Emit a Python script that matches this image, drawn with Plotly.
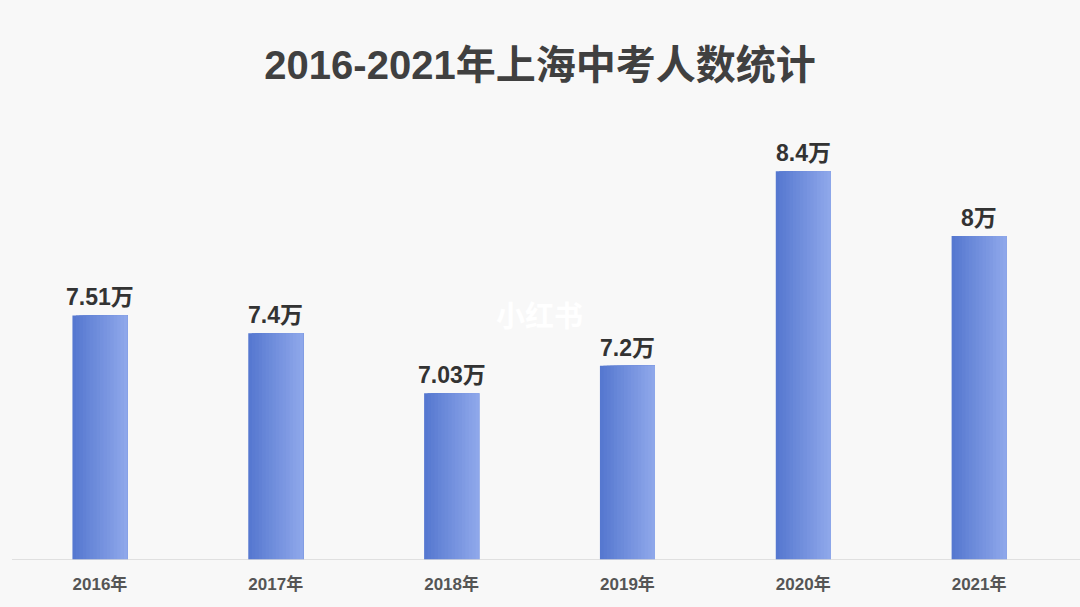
import plotly.graph_objects as go

years = ["2016年", "2017年", "2018年", "2019年", "2020年", "2021年"]
values = [7.51, 7.4, 7.03, 7.2, 8.4, 8]
title_text = "2016-2021年上海中考人数统计"

FONT = "Liberation Sans, Arial, Noto Sans CJK SC, sans-serif"
W = 0.3125
N = 16
c0 = (86, 120, 208)
c1 = (142, 167, 234)

fig = go.Figure()
for i in range(N):
    t = i / (N - 1)
    col = tuple(int(round(c0[k] + (c1[k] - c0[k]) * t)) for k in range(3))
    fig.add_trace(go.Bar(
        x=years, y=values, width=W - i * W / N, offset=-W / 2 + i * W / N,
        marker=dict(color="rgb(%d,%d,%d)" % col, line=dict(width=0)),
        hoverinfo="skip", showlegend=False,
    ))

annotations = [
    dict(x=yr, y=v, xref="x", yref="y", text="<b>%s万</b>" % format(v, "g"),
         showarrow=False, yanchor="bottom", yshift=3,
         font=dict(family=FONT, size=23, color="#333333"))
    for yr, v in zip(years, values)
]
annotations.append(dict(text="<b>小红书</b>", x=0.5, y=0.535, xref="paper", yref="paper",
                        showarrow=False, font=dict(family="Noto Sans CJK SC", size=29, color="#ffffff")))

fig.update_layout(
    width=1080, height=607,
    margin=dict(l=12, r=13, t=100, b=47),
    paper_bgcolor="#f8f8f8", plot_bgcolor="#f8f8f8",
    barmode="overlay",
    title=dict(text="<b>" + title_text + "</b>", x=0.5, xanchor="center", y=0.893, yanchor="middle",
               font=dict(family=FONT, size=40, color="#404040")),
    xaxis=dict(range=[-0.5, 5.5], showline=False,
               ticks="outside", ticklen=9, tickcolor="rgba(0,0,0,0)",
               tickfont=dict(family=FONT, size=17, color="#555555"),
               tickprefix="<b>", ticksuffix="</b>", showgrid=False, fixedrange=True),
    yaxis=dict(range=[6.0, 8.84], visible=False, showgrid=False, zeroline=False, fixedrange=True),
    shapes=[dict(type="line", xref="paper", yref="y", x0=0, x1=1.02, y0=6.0, y1=6.0,
                 line=dict(color="#d9d9d9", width=1.5))],
    annotations=annotations,
)

fig.write_html("out.html", config={"displayModeBar": False},
               post_script="document.body.style.margin='0';document.body.style.background='#f8f8f8';")
